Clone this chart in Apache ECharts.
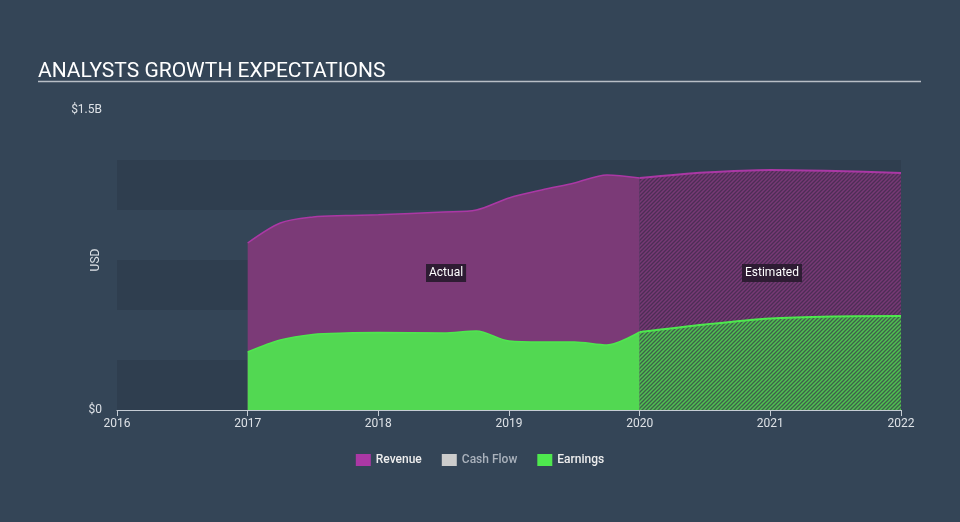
<!DOCTYPE html>
<html><head><meta charset="utf-8">
<script src="https://cdn.jsdelivr.net/npm/echarts@6/dist/echarts.min.js"></script>
<style>html,body{margin:0;padding:0;background:#344557;}#c{width:960px;height:522px;}</style>
</head><body><div id="c"></div>
<script>
// Data (years, values in $B)
const actualYears = [2017, 2017.25, 2017.5, 2017.75, 2018, 2018.5, 2018.75, 2019, 2019.25, 2019.5, 2019.75, 2020];
const revenueActual = [0.835, 0.935, 0.965, 0.972, 0.976, 0.99, 1.0, 1.06, 1.10, 1.135, 1.175, 1.16];
const earningsActual = [0.29, 0.35, 0.378, 0.385, 0.387, 0.385, 0.395, 0.345, 0.34, 0.34, 0.325, 0.39];
const estYears = [2020, 2020.5, 2021, 2021.5, 2022];
const revenueEst = [1.16, 1.187, 1.2, 1.195, 1.185];
const earningsEst = [0.39, 0.428, 0.458, 0.468, 0.47];
const xTicks = [2016, 2017, 2018, 2019, 2020, 2021, 2022];
const yTickLabels = {0: '$0', 1.5: '$1.5B'};

function pair(xs, ys) { return xs.map((x, i) => [x, ys[i]]); }
function hatch(base, line) {
  const c = document.createElement('canvas');
  c.width = 4; c.height = 4;
  const g = c.getContext('2d');
  g.fillStyle = base; g.fillRect(0, 0, 4, 4);
  g.strokeStyle = line; g.lineWidth = 1.3;
  g.beginPath();
  g.moveTo(0, 4); g.lineTo(4, 0);
  g.moveTo(-1, 1); g.lineTo(1, -1);
  g.moveTo(3, 5); g.lineTo(5, 3);
  g.stroke();
  return {image: c, repeat: 'repeat'};
}
const revColor = '#ab38a5', revFill = '#7b3a77';
const earnColor = '#4ee84e', earnFill = '#52d852';

const chart = echarts.init(document.getElementById('c'));
chart.setOption({
  backgroundColor: '#344557',
  animation: false,
  title: {text: 'ANALYSTS GROWTH EXPECTATIONS', left: 33, top: 56,
    textStyle: {color: '#ffffff', fontSize: 21, fontWeight: 'normal', fontFamily: 'Roboto'}},
  graphic: [
    {type: 'line', shape: {x1: 38, y1: 81.5, x2: 921, y2: 81.5}, style: {stroke: '#b8bec6', lineWidth: 1.5}},
    {type: 'text', x: 96, y: 260, rotation: Math.PI / 2, style: {text: 'USD', fill: '#dde1e6', font: '12px Roboto',
      align: 'center', verticalAlign: 'middle'}},
    {type: 'text', left: 426, top: 264, z: 100, style: {text: 'Actual', fill: '#ffffff', font: '12px Roboto',
      backgroundColor: '#2e1c33', padding: [3, 3]}},
    {type: 'text', left: 742, top: 264, z: 100, style: {text: 'Estimated', fill: '#ffffff', font: '12px Roboto',
      backgroundColor: '#2e1c33', padding: [3, 3]}}
  ],
  legend: {bottom: 51, left: 'center', itemWidth: 15, itemHeight: 12, itemGap: 20,
    data: [
      {name: 'Revenue', icon: 'rect', itemStyle: {color: revColor}, textStyle: {color: '#eeeeee'}},
      {name: 'Cash Flow', icon: 'rect', itemStyle: {color: '#cccccc'}, textStyle: {color: '#aab2bc'}},
      {name: 'Earnings', icon: 'rect', itemStyle: {color: earnColor}, textStyle: {color: '#eeeeee'}}
    ],
    textStyle: {fontSize: 12, fontFamily: 'Roboto', fontWeight: 500}, selectedMode: false},
  grid: {left: 117, right: 59, top: 110, bottom: 112},
  xAxis: {type: 'value', min: 2016, max: 2022, interval: 1,
    axisLine: {lineStyle: {color: '#c5ccd4'}},
    axisTick: {show: true, length: 6, lineStyle: {color: '#c5ccd4'}},
    axisLabel: {color: '#dde1e6', fontSize: 12, fontFamily: 'Roboto', margin: 8, formatter: v => String(v)},
    splitLine: {show: false}},
  yAxis: {type: 'value', min: 0, max: 1.5, interval: 0.25,
    axisLine: {show: false}, axisTick: {show: false},
    axisLabel: {color: '#dde1e6', fontSize: 12, fontFamily: 'Roboto', margin: 15,
      formatter: v => (yTickLabels[v] !== undefined ? yTickLabels[v] : '')},
    splitLine: {show: false},
    splitArea: {show: true, areaStyle: {color: ['#2f3e4f', 'rgba(0,0,0,0)']}}},
  series: [
    {name: 'Revenue', type: 'line', data: pair(actualYears, revenueActual), smooth: 0.3,
      symbol: 'none', lineStyle: {color: revColor, width: 1.5}, itemStyle: {color: revColor},
      areaStyle: {color: revFill, opacity: 1}, z: 2},
    {name: 'Revenue Est', type: 'line', data: pair(estYears, revenueEst), smooth: 0.3,
      symbol: 'none', lineStyle: {color: revColor, width: 2},
      areaStyle: {color: hatch('#773975', '#4c2e55'), opacity: 1}, z: 2},
    {name: 'Cash Flow', type: 'line', data: [], itemStyle: {color: '#cccccc'}},
    {name: 'Earnings', type: 'line', data: pair(actualYears, earningsActual), smooth: 0.3,
      symbol: 'none', lineStyle: {color: earnColor, width: 1.5}, itemStyle: {color: earnColor},
      areaStyle: {color: earnFill, opacity: 1}, z: 3},
    {name: 'Earnings Est', type: 'line', data: pair(estYears, earningsEst), smooth: 0.3,
      symbol: 'none', lineStyle: {color: earnColor, width: 2},
      areaStyle: {color: hatch('#4fc150', '#3f5e4c'), opacity: 1}, z: 3}
  ]
});
</script></body></html>
